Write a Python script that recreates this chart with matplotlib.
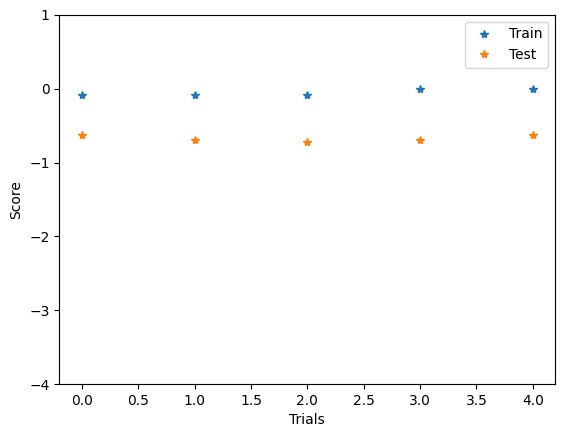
import matplotlib
matplotlib.use("Agg")
import matplotlib.pyplot as plt

trials = [0, 1, 2, 3, 4]
train_scores = [-0.09, -0.09, -0.09, 0.0, 0.0]
test_scores = [-0.62, -0.70, -0.725, -0.70, -0.62]

fig = plt.figure(figsize=(5.65, 4.38), dpi=100)
ax = fig.add_axes([0.105, 0.123, 0.878, 0.843])

ax.plot(trials, train_scores, "*", label="Train")
ax.plot(trials, test_scores, "*", label="Test")
ax.set_ylim(-4, 1)
ax.set_xlabel("Trials")
ax.set_ylabel("Score")
ax.legend(loc="upper right")

fig.savefig("out.png")
